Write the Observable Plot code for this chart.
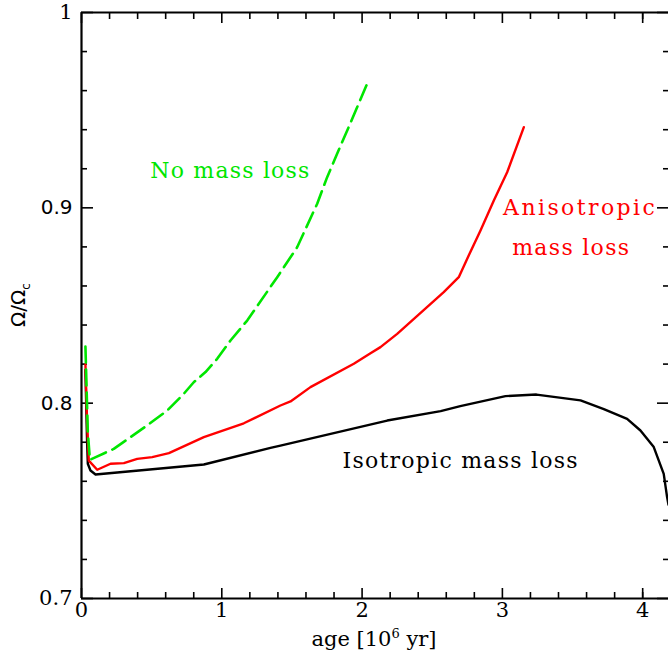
<!DOCTYPE html>
<html>
<head>
<meta charset="utf-8">
<script src="https://cdn.jsdelivr.net/npm/d3@7"></script>
<script src="https://cdn.jsdelivr.net/npm/@observablehq/plot@0.6"></script>
<style>
  html, body { margin: 0; padding: 0; background: #fff; }
  #chart { width: 668px; height: 659px; overflow: hidden; }
</style>
</head>
<body>
<div id="chart"></div>
<script>
// Isotropic mass loss (black)
const isoAge   = [0.028, 0.040, 0.045, 0.064, 0.100, 0.872, 1.347, 1.418, 2.179, 2.560, 2.700, 3.022, 3.243, 3.557, 3.723, 3.889, 3.984, 4.079, 4.150, 4.174, 4.184];
const isoOmega = [0.817, 0.780, 0.769, 0.7655, 0.7635, 0.7686, 0.7771, 0.7783, 0.7911, 0.7959, 0.7985, 0.8036, 0.8044, 0.8014, 0.797, 0.792, 0.786, 0.7775, 0.7638, 0.7519, 0.748];

// Anisotropic mass loss (red)
const anisoAge   = [0.028, 0.040, 0.052, 0.112, 0.207, 0.302, 0.397, 0.504, 0.623, 0.872, 1.157, 1.418, 1.490, 1.632, 1.941, 2.060, 2.131, 2.250, 2.582, 2.689, 2.760, 2.844, 2.939, 3.034, 3.153];
const anisoOmega = [0.820, 0.790, 0.7706, 0.7659, 0.769, 0.7693, 0.7715, 0.7724, 0.7744, 0.7826, 0.7897, 0.7988, 0.8009, 0.8082, 0.8202, 0.8256, 0.8287, 0.8355, 0.8568, 0.8645, 0.8756, 0.8884, 0.9037, 0.9182, 0.9413];

// No mass loss (green, dashed)
const noAge   = [0.028, 0.045, 0.060, 0.090, 0.230, 0.349, 0.468, 0.611, 0.729, 0.800, 0.884, 0.967, 1.062, 1.181, 1.395, 1.537, 1.680, 1.751, 1.822, 1.894, 2.036];
const noOmega = [0.829, 0.785, 0.771, 0.772, 0.7766, 0.7826, 0.7886, 0.7962, 0.8048, 0.8107, 0.8159, 0.8227, 0.8321, 0.8423, 0.8645, 0.8798, 0.9021, 0.9157, 0.9277, 0.9396, 0.9635];

const xMajor = [0, 1, 2, 3, 4];
const xMinor = [0.2, 0.4, 0.6, 0.8, 1.2, 1.4, 1.6, 1.8, 2.2, 2.4, 2.6, 2.8, 3.2, 3.4, 3.6, 3.8, 4.0];
const yMajorSerif = [0.7, 1.0];
const yMajorSans = [0.8, 0.9];
const yMajor = [0.7, 0.8, 0.9, 1.0];
const yMinor = [0.72, 0.74, 0.76, 0.78, 0.82, 0.84, 0.86, 0.88, 0.92, 0.94, 0.96, 0.98];

const labels = ["No mass loss", "Anisotropic", "mass loss", "Isotropic mass loss"];

const toRows = (xs, ys) => xs.map((x, i) => ({age: x, omega: ys[i]}));
const iso = toRows(isoAge, isoOmega);
const aniso = toRows(anisoAge, anisoOmega);
const noml = toRows(noAge, noOmega);

const serif = "DejaVu Serif";
const sans = "DejaVu Sans";
const fmt = d3.format("~g");

const plot = Plot.plot({
  width: 668,
  height: 659,
  marginLeft: 81,
  marginRight: 0,
  marginTop: 12,
  marginBottom: 61,
  style: {background: "#fff", overflow: "visible"},
  x: {domain: [0, 4.184]},
  y: {domain: [0.7, 1.0]},
  marks: [
    // ticks (inward)
    Plot.axisX(xMajor, {anchor: "bottom", tickSize: -10, text: null, label: null, strokeWidth: 1.6}),
    Plot.axisX(xMinor, {anchor: "bottom", tickSize: -6, text: null, label: null, strokeWidth: 1.6}),
    Plot.axisX(xMajor, {anchor: "top", tickSize: -10, text: null, label: null, strokeWidth: 1.6}),
    Plot.axisX(xMinor, {anchor: "top", tickSize: -6, text: null, label: null, strokeWidth: 1.6}),
    Plot.axisY(yMajor, {anchor: "left", tickSize: -12, text: null, label: null, strokeWidth: 1.6}),
    Plot.axisY(yMinor, {anchor: "left", tickSize: -6, text: null, label: null, strokeWidth: 1.6}),
    Plot.axisY(yMajor, {anchor: "right", tickSize: -12, text: null, label: null, strokeWidth: 1.6}),
    Plot.axisY(yMinor, {anchor: "right", tickSize: -6, text: null, label: null, strokeWidth: 1.6}),
    // tick labels
    Plot.axisX(xMajor, {anchor: "bottom", tickSize: 0, tickPadding: 4, label: null, tickFormat: fmt, fontSize: 21, fontFamily: serif, fill: "#000"}),
    Plot.axisY(yMajorSerif, {anchor: "left", tickSize: 0, tickPadding: 9, label: null, tickFormat: fmt, fontSize: 21, fontFamily: serif, fill: "#000"}),
    Plot.axisY(yMajorSans, {anchor: "left", tickSize: 0, tickPadding: 9, label: null, tickFormat: fmt, fontSize: 20, fontFamily: sans, fill: "#000"}),
    // frame: left, bottom, top
    Plot.ruleX([0], {stroke: "#000", strokeWidth: 2.2}),
    Plot.ruleY([0.7, 1.0], {stroke: "#000", strokeWidth: 2.2}),
    // curves
    Plot.line(iso, {x: "age", y: "omega", stroke: "#000", strokeWidth: 2.4}),
    Plot.line(aniso, {x: "age", y: "omega", stroke: "#ff0000", strokeWidth: 2.4}),
    Plot.line(noml, {x: "age", y: "omega", stroke: "#00e600", strokeWidth: 2.6, strokeDasharray: "16,7"}),
    // annotations
    Plot.text([labels[0]], {x: 0.49, y: 0.919, text: d => d, textAnchor: "start", fill: "#00e600", fontSize: 22, fontFamily: serif}),
    Plot.text([labels[1]], {x: 3.005, y: 0.9, text: d => d, textAnchor: "start", fill: "#ff0000", fontSize: 22, fontFamily: serif}),
    Plot.text([labels[2]], {x: 3.07, y: 0.8795, text: d => d, textAnchor: "start", fill: "#ff0000", fontSize: 22, fontFamily: serif}),
    Plot.text([labels[3]], {x: 1.86, y: 0.7705, text: d => d, textAnchor: "start", fill: "#000", fontSize: 22, fontFamily: serif})
  ]
});

const svg = d3.select(plot);
const spacing = {"No mass loss": 1.2, "Anisotropic": 2.4, "mass loss": 1.3, "Isotropic mass loss": 1.25};
svg.selectAll("text")
  .filter(function() { return labels.includes(this.textContent); })
  .attr("letter-spacing", function() { return spacing[this.textContent]; });

// axis titles
svg.append("text")
  .attr("x", 374).attr("y", 646)
  .attr("text-anchor", "middle")
  .attr("font-family", serif).attr("font-size", 21)
  .html('age [10<tspan dy="-8" font-size="13">6</tspan><tspan dy="8"> yr]</tspan>');
svg.append("text")
  .attr("transform", "translate(25,305) rotate(-90)")
  .attr("text-anchor", "middle")
  .attr("font-family", sans).attr("font-size", 20)
  .html('Ω/Ω<tspan dy="5" font-size="12">c</tspan>');

document.getElementById("chart").appendChild(plot);
</script>
</body>
</html>
